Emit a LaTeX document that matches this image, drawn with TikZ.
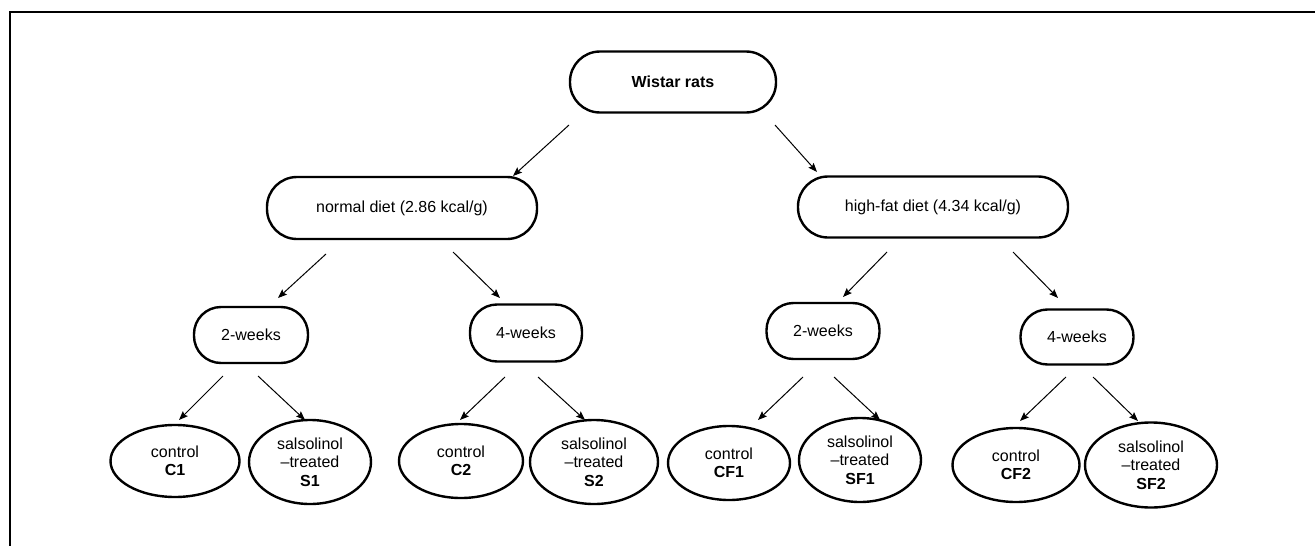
\documentclass[tikz,border=0pt]{standalone}
\usepackage{fontspec}
\setmainfont{Liberation Sans}
\usetikzlibrary{arrows.meta,shapes.geometric}
\begin{document}
\begin{tikzpicture}[x=1pt,y=-1pt,
  pill/.style={draw,line width=2.4pt,rectangle,rounded corners=27pt,inner sep=0pt,align=center,font=\fontsize{16}{18.5}\selectfont},
  oval/.style={draw,line width=2.4pt,ellipse,inner sep=0pt,align=center,font=\fontsize{16}{18.5}\selectfont},
  arr/.style={line width=1pt,-{Stealth[length=9pt,width=7pt,inset=1.5pt]}}]
\useasboundingbox (0,0) rectangle (1315,546);
\draw[line width=2.5pt] (10,547) -- (10,12) -- (1316,12);
% level 1
\node[pill,minimum width=206pt,minimum height=61pt,rounded corners=30pt] (wistar) at (673,82) {\textbf{Wistar rats}};
% level 2
\node[pill,minimum width=270pt,minimum height=62pt,rounded corners=30pt] (normal) at (402,208) {normal diet (2.86 kcal/g)};
\node[pill,minimum width=270pt,minimum height=61pt,rounded corners=30pt] (highfat) at (933,207) {high-fat diet (4.34 kcal/g)};
% level 3
\node[pill,minimum width=114pt,minimum height=56pt] (w2L) at (251,335) {2-weeks};
\node[pill,minimum width=112pt,minimum height=57pt] (w4L) at (526,333) {4-weeks};
\node[pill,minimum width=113pt,minimum height=56pt] (w2R) at (823,331) {2-weeks};
\node[pill,minimum width=113pt,minimum height=55pt] (w4R) at (1077,337) {4-weeks};
% level 4
\node[oval,minimum width=129pt,minimum height=72pt] (C1) at (175,461) {control\\\textbf{C1}};
\node[oval,minimum width=122pt,minimum height=84pt] (S1) at (310,462) {salsolinol\\–treated\\\textbf{S1}};
\node[oval,minimum width=124pt,minimum height=74pt] (C2) at (461,461) {control\\\textbf{C2}};
\node[oval,minimum width=128pt,minimum height=84pt] (S2) at (594,462) {salsolinol\\–treated\\\textbf{S2}};
\node[oval,minimum width=122pt,minimum height=74pt] (CF1) at (729,463) {control\\\textbf{CF1}};
\node[oval,minimum width=122pt,minimum height=84pt] (SF1) at (860,460) {salsolinol\\–treated\\\textbf{SF1}};
\node[oval,minimum width=127pt,minimum height=74pt] (CF2) at (1016,465) {control\\\textbf{CF2}};
\node[oval,minimum width=132pt,minimum height=85pt] (SF2) at (1151,465) {salsolinol\\–treated\\\textbf{SF2}};
% connector end points
\coordinate (a1s) at (569,125); \coordinate (a1e) at (513,176);
\coordinate (a2s) at (775,125); \coordinate (a2e) at (817,172);
\coordinate (b1s) at (326,254); \coordinate (b1e) at (278,298);
\coordinate (b2s) at (453,252); \coordinate (b2e) at (500,298);
\coordinate (b3s) at (887,252); \coordinate (b3e) at (843,297);
\coordinate (b4s) at (1013,252); \coordinate (b4e) at (1058,298);
\coordinate (c1s) at (223,376); \coordinate (c1e) at (179,420);
\coordinate (c2s) at (258,376); \coordinate (c2e) at (305,420);
\coordinate (c3s) at (505,377); \coordinate (c3e) at (460,420);
\coordinate (c4s) at (538,377); \coordinate (c4e) at (585,420);
\coordinate (c5s) at (803,377); \coordinate (c5e) at (758,420);
\coordinate (c6s) at (834,377); \coordinate (c6e) at (880,420);
\coordinate (c7s) at (1066,377); \coordinate (c7e) at (1020,421);
\coordinate (c8s) at (1093,377); \coordinate (c8e) at (1138,421);
\foreach \s/\e in {a1s/a1e,a2s/a2e,b1s/b1e,b2s/b2e,b3s/b3e,b4s/b4e,c1s/c1e,c2s/c2e,c3s/c3e,c4s/c4e,c5s/c5e,c6s/c6e,c7s/c7e,c8s/c8e}
  \draw[arr] (\s) -- (\e);
\end{tikzpicture}
\end{document}
